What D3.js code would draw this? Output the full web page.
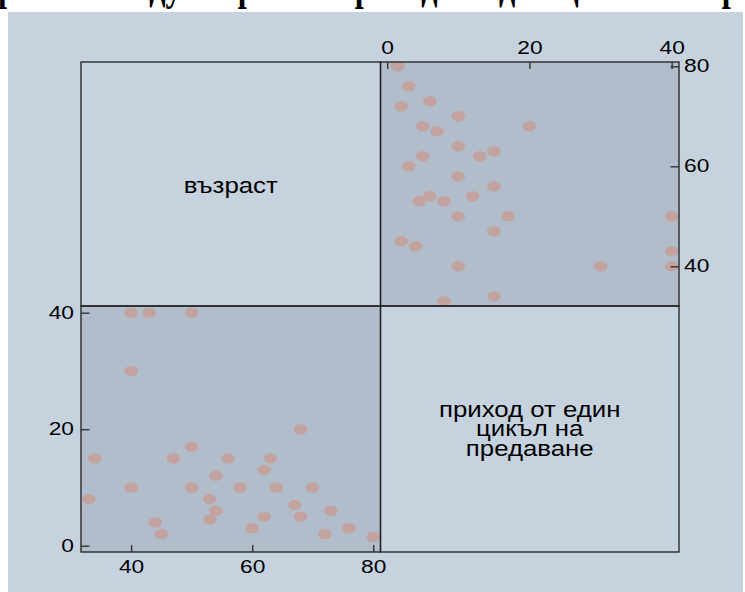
<!DOCTYPE html>
<html><head><meta charset="utf-8">
<script src="https://cdn.jsdelivr.net/npm/d3@7"></script>
<style>body{margin:0;background:#fff}svg{display:block}</style>
</head><body><svg id="c" width="745" height="592"></svg>
<script>
// ---- data ----
const title = "Връзка между възраст и приход от един цикъл на предаване";
const labelAge = ["възраст"];
const labelIncome = ["приход от един", "цикъл на", "предаване"];
const age    = [40, 43, 50, 40, 68, 50, 34, 47, 56, 63, 62, 54, 40, 50, 58, 64, 70, 33, 53, 67, 54, 73, 62, 68, 53, 44, 60, 76, 45, 72, 80];
const income = [40, 40, 40, 30, 20, 17, 15, 15, 15, 15, 13, 12, 10, 10, 10, 10, 10,  8,  8,  7,  6,  6,  5,  5, 4.5, 4,  3,  3,  2,  2, 1.5];
const ageTicks = [40, 60, 80];
const incomeTicks = [0, 20, 40];

// ---- style ----
const BG = "#c6d3df", PANEL = "#b1bdca", MARK = "#c3a39f", LINE = "#1e1e1e", TICK = "#333";
const svg = d3.select("#c");

// background band
svg.append("rect").attr("x", 8).attr("y", 12).attr("width", 735).attr("height", 580).attr("fill", BG);

// title (mostly cut off at top: only descenders visible)
const tt = svg.append("text").text(title)
  .attr("font-family", "'Liberation Serif','Times New Roman',serif")
  .attr("font-weight", "bold").attr("font-size", 42).attr("fill", "#000");
{
  const n = tt.node();
  const p1 = n.getStartPositionOfChar(1).x;
  const p2 = n.getStartPositionOfChar(title.indexOf("предаване") + 1).x;
  const sx = 724 / (p2 - p1);
  tt.attr("transform", `translate(${-2 - sx * p1},0) scale(${sx},1)`);
}

// layout
const L = 81, MX = 380.5, R = 679, T = 62, MY = 306, B = 552;

// scales
const xInc = d3.scaleLinear().domain([-0.94, 41.03]).range([MX, R]);
const yAge = d3.scaleLinear().domain([32.06, 80.86]).range([MY, T]);
const xAge = d3.scaleLinear().domain([31.72, 81.2]).range([L, MX]);
const yInc = d3.scaleLinear().domain([-1.08, 41.15]).range([B, MY]);

const pts = age.map((a, i) => ({age: a, inc: income[i]}));

// panels
svg.append("rect").attr("x", L).attr("y", T).attr("width", MX - L).attr("height", MY - T).attr("fill", BG);
svg.append("rect").attr("x", MX).attr("y", MY).attr("width", R - MX).attr("height", B - MY).attr("fill", BG);
svg.append("rect").attr("x", MX).attr("y", T).attr("width", R - MX).attr("height", MY - T).attr("fill", PANEL);
svg.append("rect").attr("x", L).attr("y", MY).attr("width", MX - L).attr("height", B - MY).attr("fill", PANEL);

const defs = svg.append("defs");
defs.append("clipPath").attr("id", "cTR").append("rect").attr("x", MX).attr("y", T).attr("width", R - MX).attr("height", MY - T);
defs.append("clipPath").attr("id", "cBL").append("rect").attr("x", L).attr("y", MY).attr("width", MX - L).attr("height", B - MY);

const RX = 6.8, RY = 5.2;
svg.append("g").attr("clip-path", "url(#cTR)").selectAll("ellipse").data(pts).join("ellipse")
  .attr("cx", d => xInc(d.inc)).attr("cy", d => yAge(d.age)).attr("rx", RX).attr("ry", RY).attr("fill", MARK);
svg.append("g").attr("clip-path", "url(#cBL)").selectAll("ellipse").data(pts).join("ellipse")
  .attr("cx", d => xAge(d.age)).attr("cy", d => yInc(d.inc)).attr("rx", RX).attr("ry", RY).attr("fill", MARK);

// frames
[[L, T, MX, MY], [MX, T, R, MY], [L, MY, MX, B], [MX, MY, R, B]].forEach(([x0, y0, x1, y1]) => {
  svg.append("rect").attr("x", x0).attr("y", y0).attr("width", x1 - x0).attr("height", y1 - y0)
    .attr("fill", "none").attr("stroke", LINE).attr("stroke-width", 1.3);
});

// axes
const TFS = 17.5, TSX = 1.3;
function styleAxis(g, side, pad) {
  g.select(".domain").remove();
  g.selectAll(".tick line").attr("stroke", TICK).attr("stroke-width", 1.4);
  g.selectAll(".tick text").attr("font-family", "'Liberation Sans',Arial,sans-serif")
    .attr("font-size", TFS).attr("fill", "#000");
  if (side === "left") g.selectAll(".tick text").attr("x", -pad / TSX).attr("transform", `scale(${TSX},1)`);
  else if (side === "right") g.selectAll(".tick text").attr("x", pad / TSX).attr("transform", `scale(${TSX},1)`);
  else g.selectAll(".tick text").attr("transform", `scale(${TSX},1)`);
}
svg.append("g").attr("transform", `translate(0,${T})`)
  .call(d3.axisTop(xInc).tickValues(incomeTicks).tickSize(-7).tickPadding(8))
  .call(g => styleAxis(g, "top", 8));
svg.append("g").attr("transform", `translate(${R},0)`)
  .call(d3.axisRight(yAge).tickValues(ageTicks).tickSize(-8.5).tickPadding(5))
  .call(g => styleAxis(g, "right", 5));
svg.append("g").attr("transform", `translate(${L},0)`)
  .call(d3.axisLeft(yInc).tickValues(incomeTicks).tickSize(-8.5).tickPadding(7))
  .call(g => styleAxis(g, "left", 7));
svg.append("g").attr("transform", `translate(0,${B})`)
  .call(d3.axisBottom(xAge).tickValues(ageTicks).tickSize(-7).tickPadding(8.5))
  .call(g => styleAxis(g, "bottom", 8.5));

// diagonal labels (one text element, lines as tspans)
const LFS = 21.5, LSX = 1.2;
function diagLabel(lines, cx, baseline0, step) {
  const t = svg.append("text")
    .attr("font-family", "'Liberation Sans',Arial,sans-serif").attr("font-size", LFS).attr("fill", "#000")
    .attr("text-anchor", "middle")
    .attr("transform", `translate(${cx},${baseline0}) scale(${LSX},1)`);
  lines.forEach((s, i) => {
    t.append("tspan").attr("x", 0).attr("y", i * step).text(s);
  });
}
diagLabel(labelAge, (L + MX) / 2, 193, 20);
diagLabel(labelIncome, (MX + R) / 2, 416.5, 20);
</script></body></html>
